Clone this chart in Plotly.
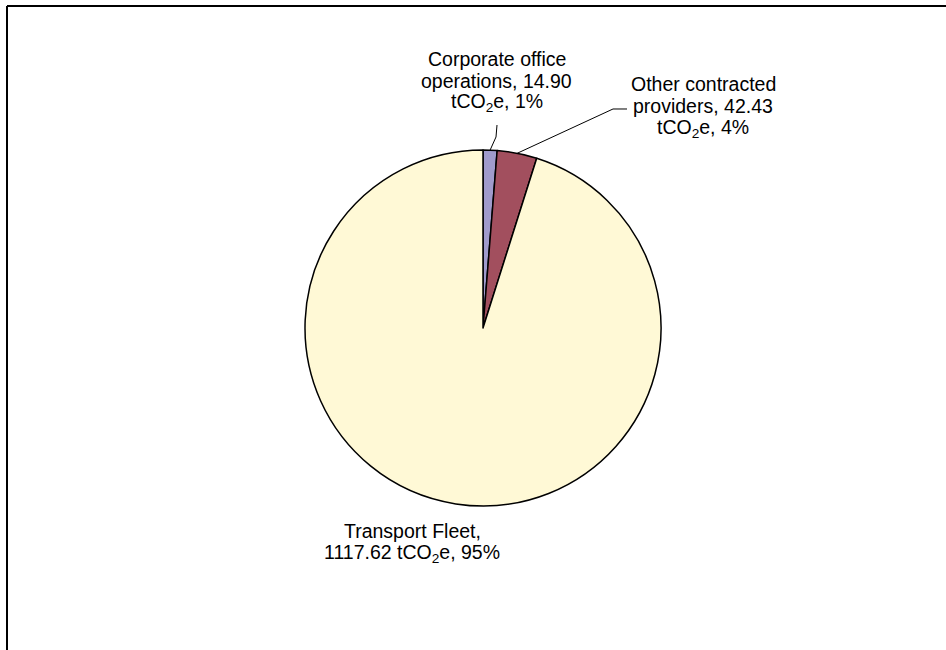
import math
import plotly.graph_objects as go

categories = ["Corporate office operations", "Other contracted providers", "Transport Fleet"]
values = [14.90, 42.43, 1117.62]
percents = ["1%", "4%", "95%"]
colors = ["#A09BCC", "#A24F5E", "#FFF9D6"]

W, H = 946, 650
cx, cy, R = 483, 328, 178

def px(x):
    return x / W

def py(y):
    return 1 - y / H

fig = go.Figure(go.Pie(
    labels=categories, values=values, sort=False, direction="clockwise",
    rotation=0, textinfo="none", hoverinfo="label+value+percent",
    marker=dict(colors=colors, line=dict(color="#000000", width=1.5)),
    domain=dict(x=[px(cx - R), px(cx + R)], y=[py(cy + R), py(cy - R)]),
    showlegend=False,
))

total = sum(values)

def anchor(i):
    start = sum(values[:i]) / total
    mid = (start + values[i] / total / 2) * 2 * math.pi
    return cx + R * math.sin(mid), cy - R * math.cos(mid)

label_lines = [
    ["Corporate office", "operations, %.2f" % values[0], "tCO<sub>2</sub>e, %s" % percents[0]],
    ["Other contracted", "providers, %.2f" % values[1], "tCO<sub>2</sub>e, %s" % percents[1]],
    ["Transport Fleet,", "%.2f tCO<sub>2</sub>e, %s" % (values[2], percents[2])],
]
label_pos = [(497, 59), (703, 84), (412, 531)]
LINE = 22

font = dict(family="Liberation Sans, Arial, sans-serif", size=19.5, color="#000000")
annotations = []
for lines, (x, y) in zip(label_lines, label_pos):
    for k, t in enumerate(lines):
        annotations.append(dict(text=t, x=px(x), y=py(y + k * LINE), xref="paper", yref="paper",
                                xanchor="center", yanchor="middle", showarrow=False,
                                align="center", font=font))

shapes = []
# leader lines
ax0, ay0 = anchor(0)
shapes.append(dict(type="path", xref="paper", yref="paper",
                   path="M %f,%f L %f,%f L %f,%f" % (px(497), py(125), px(496), py(137), px(ax0), py(ay0)),
                   line=dict(color="#000000", width=1)))
ax1, ay1 = anchor(1)
shapes.append(dict(type="path", xref="paper", yref="paper",
                   path="M %f,%f L %f,%f L %f,%f" % (px(627), py(109), px(613), py(109), px(ax1), py(ay1)),
                   line=dict(color="#000000", width=1)))
# chart area border (top and left)
shapes.append(dict(type="line", xref="paper", yref="paper", x0=px(7), y0=py(6), x1=1, y1=py(6),
                   line=dict(color="#000000", width=2)))
shapes.append(dict(type="line", xref="paper", yref="paper", x0=px(7), y0=py(6), x1=px(7), y1=0,
                   line=dict(color="#000000", width=2)))

fig.update_layout(width=W, height=H, margin=dict(l=0, r=0, t=0, b=0),
                  paper_bgcolor="white", plot_bgcolor="white",
                  annotations=annotations, shapes=shapes)

fig.write_html("out.html", config={"displayModeBar": False},
               post_script="document.body.style.margin='0';document.body.style.overflow='hidden';")
